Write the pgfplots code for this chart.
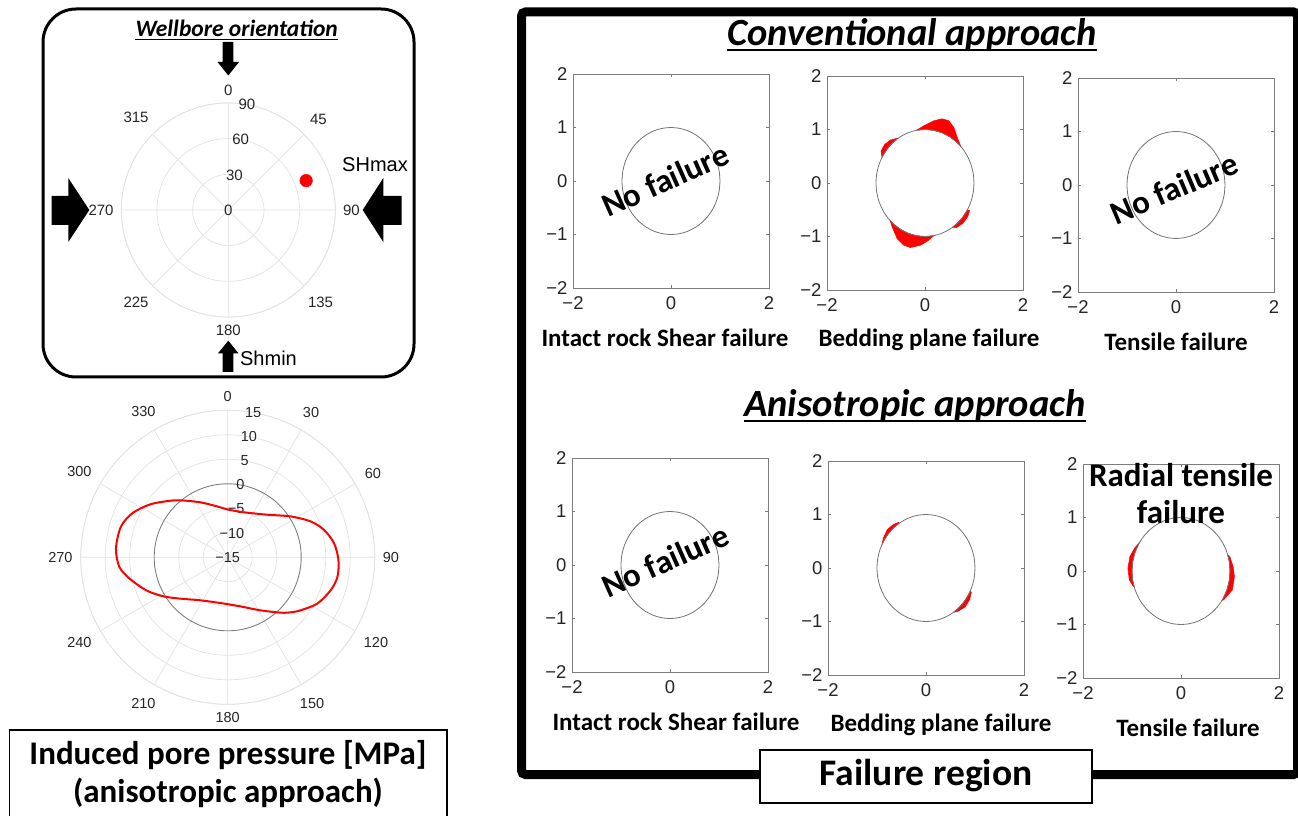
\documentclass[border=0pt]{standalone}
\usepackage{fontspec}
\setmainfont{Carlito}
\newfontfamily\lsans{Liberation Sans}
\usepackage{pgfplots}
\pgfplotsset{compat=1.18}
\usepgfplotslibrary{polar}
\usepackage{pgfplotstable}

\definecolor{gridgray}{RGB}{226,226,226}
\definecolor{boxgray}{RGB}{125,125,125}

\pgfplotstableread{
x y
1.0000 0.0000
0.9848 0.1736
0.9397 0.3420
0.8660 0.5000
0.7660 0.6428
0.6428 0.7660
0.5000 0.8660
0.3420 0.9397
0.1736 0.9848
0.0000 1.0000
-0.1736 0.9848
-0.3420 0.9397
-0.5000 0.8660
-0.6428 0.7660
-0.7660 0.6428
-0.8660 0.5000
-0.9397 0.3420
-0.9848 0.1736
-1.0000 0.0000
-0.9848 -0.1736
-0.9397 -0.3420
-0.8660 -0.5000
-0.7660 -0.6428
-0.6428 -0.7660
-0.5000 -0.8660
-0.3420 -0.9397
-0.1736 -0.9848
0.0000 -1.0000
0.1736 -0.9848
0.3420 -0.9397
0.5000 -0.8660
0.6428 -0.7660
0.7660 -0.6428
0.8660 -0.5000
0.9397 -0.3420
0.9848 -0.1736
1.0000 0.0000
}\wellbore

\pgfplotsset{
  panel/.style={
    scale only axis, width=196pt, height=214pt,
    anchor=south west,
    xmin=-2, xmax=2, ymin=-2, ymax=2,
    xtick={-2,0,2}, xticklabels={−2,0,2},
    ytick={-2,-1,0,1,2}, yticklabels={−2,−1,0,1,2},
    axis line style={boxgray, line width=0.9pt},
    major tick style={boxgray, line width=0.7pt},
    major tick length=3pt,
    tick align=inside,
    ticklabel style={font=\lsans\fontsize{18.5}{20}\selectfont, text=black!85},
    xticklabel style={yshift=-5pt},
    yticklabel style={xshift=-2pt},
    xlabel style={font=\bfseries\fontsize{25}{30}\selectfont, at={(axis description cs:0.5,0)}, anchor=center, yshift=-50pt},
    clip=false,
  },
}
\tikzset{
  bore/.style={black!55, line width=0.8pt, smooth},
  fail/.style={fill=red, draw=red, line width=0.5pt},
  nofail/.style={rotate=24, font=\bfseries\fontsize{33}{33}\selectfont},
}

\begin{document}
\begin{tikzpicture}[x=1pt,y=1pt]
\useasboundingbox (0,0) rectangle (1298,815);

% ---------- decorations (pixel coordinates, y downwards) ----------
\begin{scope}[shift={(0,815)}, yscale=-1]
  \draw[line width=3pt, rounded corners=33pt] (43,9) rectangle (414,377);
  \fill (222.7,42) -- (233.3,42) -- (233.3,62) -- (239,62) -- (228.3,75.5) -- (217.5,62) -- (222.7,62) -- cycle;
  \fill (51.7,196) -- (68.3,196) -- (68.3,178) -- (89.3,210) -- (68.3,242) -- (68.3,225) -- (51.7,225) -- cycle;
  \fill (401.7,196) -- (383.3,196) -- (383.3,178) -- (362.7,210) -- (383.3,242) -- (383.3,225) -- (401.7,225) -- cycle;
  \fill (222.7,372) -- (233.3,372) -- (233.3,353.3) -- (238.5,353.3) -- (228.3,340.7) -- (218,353.3) -- (222.7,353.3) -- cycle;
  \node[font=\lsans\fontsize{20}{22}\selectfont] at (375,165) {SHmax};
  \node[font=\lsans\fontsize{20}{22}\selectfont] at (268.5,358) {Shmin};

  \draw[line width=1.5pt] (9.5,730) rectangle (447,830);
  \node[align=center, font=\bfseries\fontsize{33}{38}\selectfont] at (228,774) {Induced pore pressure [MPa]\\(anisotropic approach)};

  \draw[line width=9pt, rounded corners=4pt] (521.5,12) rectangle (1297.5,774.5);
  \draw[line width=2pt, fill=white] (760,750) rectangle (1092,803);
  \node[font=\bfseries\fontsize{37.5}{40}\selectfont] at (926,776) {Failure region};
\end{scope}

% titles with underline (normal orientation)
\node[inner xsep=0pt, font=\fontsize{23.5}{26}\selectfont\bfseries\itshape] (tw) at (236.7,787) {Wellbore orientation};
\draw[line width=1.3pt] ([yshift=-3pt]tw.base west) -- ([yshift=-3pt]tw.base east);
\node[inner xsep=0pt, font=\fontsize{38.5}{42}\selectfont\bfseries\itshape] (tc) at (912,780) {Conventional approach};
\draw[line width=2pt] ([yshift=-5pt]tc.base west) -- ([yshift=-5pt]tc.base east);
\node[inner xsep=0pt, font=\fontsize{38.5}{42}\selectfont\bfseries\itshape] (ta) at (915,409) {Anisotropic approach};
\draw[line width=2pt] ([yshift=-5pt]ta.base west) -- ([yshift=-5pt]ta.base east);

% ---------- wellbore orientation polar plot ----------
\begin{polaraxis}[
  at={(228.3pt,605pt)}, anchor=center,
  scale only axis, width=214pt, height=214pt,
  xmin=-280, xmax=80, ymin=0, ymax=90,
  xtick={-270,-225,-180,-135,-90,-45,0,45},
  xticklabels={0,315,270,225,180,135,90,45},
  ytick={0,30,60,90}, yticklabels={0,30,60,90},
  grid=major,
  major grid style={gridgray, line width=0.7pt},
  axis line style={gridgray, line width=0.7pt},
  y axis line style={draw=none},
  major tick length=0pt,
  ticklabel style={font=\lsans\fontsize{15}{16}\selectfont, text=black!85},
  xticklabel style={inner sep=7.5pt},
  yticklabel style={anchor=center},
]
\addplot[only marks, mark=*, mark size=6.3pt, mark options={draw=red, fill=red}] coordinates {(20.7,70)};
\end{polaraxis}

% ---------- induced pore pressure polar plot ----------
\begin{polaraxis}[
  at={(227.7pt,257.7pt)}, anchor=center,
  scale only axis, width=294pt, height=294pt,
  xmin=-280, xmax=80, ymin=0, ymax=30,
  xtick={-270,-240,-210,-180,-150,-120,-90,-60,-30,0,30,60},
  xticklabels={0,330,300,270,240,210,180,150,120,90,60,30},
  ytick={0,5,10,20,25,30}, yticklabels={−15,−10,−5,5,10,15},
  extra y ticks={15}, extra y tick labels={0},
  extra y tick style={grid=major, major grid style={black!50, line width=0.9pt}, yticklabel style={anchor=center}},
  grid=major,
  major grid style={gridgray, line width=0.7pt},
  axis line style={gridgray, line width=0.7pt},
  y axis line style={draw=none},
  major tick length=0pt,
  ticklabel style={font=\lsans\fontsize{14.5}{16}\selectfont, text=black!85},
  xticklabel style={inner sep=8pt},
  yticklabel style={anchor=center},
]
\addplot[red, line width=2pt, smooth] coordinates {
(70.7,9.73) (47.3,11.83) (33.1,15.29) (23.4,18.44) (15.9,20.44) (7.5,21.9)
(-1.4,22.61) (-10.1,22.75) (-17.7,22.07) (-27.3,20.59) (-36.1,18.38) (-41.3,17.03)
(-46.4,15.6) (-58.4,12.7) (-75.8,10.32) (-99.6,9.45) (-123.0,10.45) (-139.3,12.92)
(-149.0,15.42) (-158.0,17.95) (-167.9,20.53) (-175.0,22.21) (-184.6,22.88) (-196.1,22.67)
(-205.0,21.39) (-214.0,19.24) (-222.4,16.97) (-229.9,15.21) (-243.2,12.59) (-257.8,10.65)
(-270.8,9.73) (-289.3,9.73)
};
\end{polaraxis}

% ---------- Conventional approach ----------
\begin{axis}[panel, at={(573pt,527pt)}, xlabel={Intact rock Shear failure}, xlabel style={xshift=-6pt}]
\addplot[bore] table {\wellbore};
\node[nofail] at (axis cs:-0.12,0.02) {No failure};
\end{axis}

\begin{axis}[panel, at={(827pt,525pt)}, xlabel={Bedding plane failure}, xlabel style={xshift=4pt}]
\addplot[fail] coordinates {(-0.174,0.985) (-0.024,1.07) (0.181,1.163) (0.351,1.2) (0.487,1.163) (0.589,1.039) (0.658,0.853) (0.731,0.682) (0.643,0.766) (0.5,0.866) (0.342,0.940) (0.174,0.985) (0,1)} -- cycle;
\addplot[fail] coordinates {(-0.878,0.479) (-0.896,0.592) (-0.828,0.716) (-0.705,0.803) (-0.555,0.840) (-0.569,0.822) (-0.643,0.766) (-0.766,0.643) (-0.866,0.5)} -- cycle;
\addplot[fail] coordinates {(-0.711,-0.703) (-0.671,-0.822) (-0.569,-1.039) (-0.433,-1.163) (-0.296,-1.206) (-0.092,-1.163) (0.078,-1.07) (0.181,-0.983) (0,-1) (-0.174,-0.985) (-0.342,-0.940) (-0.5,-0.866) (-0.643,-0.766)} -- cycle;
\addplot[fail] coordinates {(0.561,-0.828) (0.644,-0.834) (0.780,-0.747) (0.876,-0.623) (0.910,-0.512) (0.863,-0.505) (0.766,-0.643) (0.643,-0.766)} -- cycle;
\addplot[bore] table {\wellbore};
\end{axis}

\begin{axis}[panel, at={(1078pt,523pt)}, xlabel={Tensile failure}]
\addplot[bore] table {\wellbore};
\node[nofail, rotate=-1] at (axis cs:-0.04,-0.06) {No failure};
\end{axis}

% ---------- Anisotropic approach ----------
\begin{axis}[panel, at={(572pt,143pt)}, xlabel={Intact rock Shear failure}, xlabel style={xshift=6pt}]
\addplot[bore] table {\wellbore};
\node[nofail] at (axis cs:-0.10,0.08) {No failure};
\end{axis}

\begin{axis}[panel, at={(828pt,140pt)}, xlabel={Bedding plane failure}, xlabel style={xshift=15pt}]
\addplot[fail] coordinates {(-0.896,0.444) (-0.872,0.556) (-0.790,0.719) (-0.667,0.813) (-0.550,0.857) (-0.555,0.832) (-0.643,0.766) (-0.766,0.643) (-0.866,0.5)} -- cycle;
\addplot[fail] coordinates {(0.564,-0.826) (0.646,-0.814) (0.803,-0.725) (0.892,-0.587) (0.926,-0.449) (0.899,-0.438) (0.866,-0.5) (0.766,-0.643) (0.643,-0.766)} -- cycle;
\addplot[bore] table {\wellbore};
\end{axis}

\begin{axis}[panel, at={(1083pt,137pt)}, xlabel={Tensile failure}, xlabel style={xshift=7pt}]
\addplot[fail] coordinates {(-0.836,0.549) (-0.947,0.426) (-1.043,0.271) (-1.084,0.053) (-1.056,-0.165) (-0.974,-0.289) (-0.956,-0.292) (-0.985,-0.174) (-1,0) (-0.985,0.174) (-0.940,0.342) (-0.866,0.5)} -- cycle;
\addplot[fail] coordinates {(0.952,0.306) (0.995,0.271) (1.063,0.084) (1.09,-0.103) (1.05,-0.351) (0.871,-0.538) (0.835,-0.550) (0.866,-0.5) (0.940,-0.342) (0.985,-0.174) (1,0) (0.985,0.174)} -- cycle;
\addplot[bore] table {\wellbore};
\node[align=center, font=\bfseries\fontsize{33}{36.7}\selectfont] at (axis cs:0,1.45) {Radial tensile\\failure};
\end{axis}

\end{tikzpicture}
\end{document}
